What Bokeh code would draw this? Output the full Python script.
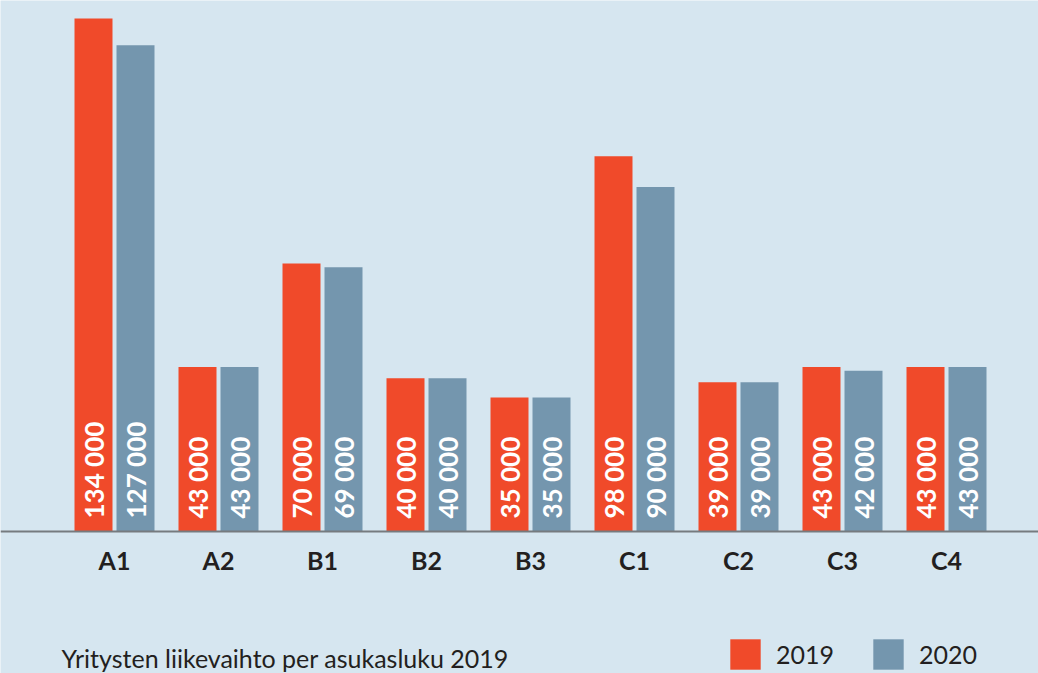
import math
from bokeh.plotting import figure
from bokeh.models import ColumnDataSource, Range1d, FixedTicker, Legend, LegendItem, Label
from bokeh.transform import dodge
from bokeh.embed import file_html
from bokeh.resources import INLINE
from bokeh.core.properties import value

regions = ["A1", "A2", "B1", "B2", "B3", "C1", "C2", "C3", "C4"]
v2019 = [134000, 43000, 70000, 40000, 35000, 98000, 39000, 43000, 43000]
v2020 = [127000, 43000, 69000, 40000, 35000, 90000, 39000, 42000, 43000]
series = ["2019", "2020"]
title_text = "Yritysten liikevaihto per asukasluku 2019"

RED = "#F04A2A"
BLUE = "#7496AE"
BG = "#D6E6F0"
DARK = "#231F20"
FONT = "Lato"


def fmt(v):
    return f"{v:,}".replace(",", " ")


src = ColumnDataSource(dict(
    x=list(range(len(regions))),
    v2019=v2019, v2020=v2020,
    l2019=[fmt(v) for v in v2019], l2020=[fmt(v) for v in v2020],
))

W, H = 1038, 673
step = 104.0
x0 = 114.0
p = figure(width=W, height=H, output_backend="svg", toolbar_location=None,
           x_range=Range1d(-x0 / step, (W - x0) / step),
           y_range=Range1d(-37090, 138700),
           min_border=0, background_fill_color=BG, border_fill_color=BG,
           outline_line_color=None)

off = 21 / step
bw = 38 / step
r1 = p.vbar(x=dodge("x", -off, range=p.x_range), top="v2019", bottom=0, width=bw,
            source=src, fill_color=RED, line_color=None)
r2 = p.vbar(x=dodge("x", off, range=p.x_range), top="v2020", bottom=0, width=bw,
            source=src, fill_color=BLUE, line_color=None)

for col, o in (("l2019", -off), ("l2020", off)):
    p.text(x=dodge("x", o, range=p.x_range), y=0, text=col, source=src,
           angle=math.pi / 2, text_align="left", text_baseline="middle",
           y_offset=-13, text_color="white", text_font=value(FONT),
           text_font_style="bold", text_font_size="26px")

p.xaxis.fixed_location = 0
p.xaxis.ticker = FixedTicker(ticks=list(range(len(regions))))
p.xaxis.major_label_overrides = {i: r for i, r in enumerate(regions)}
p.xaxis.major_tick_line_color = None
p.xaxis.minor_tick_line_color = None
p.xaxis.axis_line_color = "#767B7F"
p.xaxis.axis_line_width = 2
p.xaxis.major_label_text_font = FONT
p.xaxis.major_label_text_font_style = "bold"
p.xaxis.major_label_text_font_size = "25px"
p.xaxis.major_label_text_color = DARK
p.xaxis.major_label_standoff = 7
p.yaxis.visible = False
p.xgrid.visible = False
p.ygrid.visible = False

legend = Legend(items=[LegendItem(label=series[0], renderers=[r1]),
                       LegendItem(label=series[1], renderers=[r2])],
                orientation="horizontal", location=(726, 0),
                glyph_width=38, glyph_height=38, label_standoff=12, spacing=35,
                padding=0, margin=0, border_line_color=None,
                background_fill_alpha=0,
                label_text_font=FONT, label_text_font_size="25px",
                label_text_color=DARK)
p.add_layout(legend)

p.add_layout(Label(x=61, y=16, x_units="screen", y_units="screen", text=title_text,
                   text_font=FONT, text_font_size="25px", text_color=DARK,
                   text_baseline="alphabetic"))

open("out.html", "w").write(file_html(p, INLINE))
